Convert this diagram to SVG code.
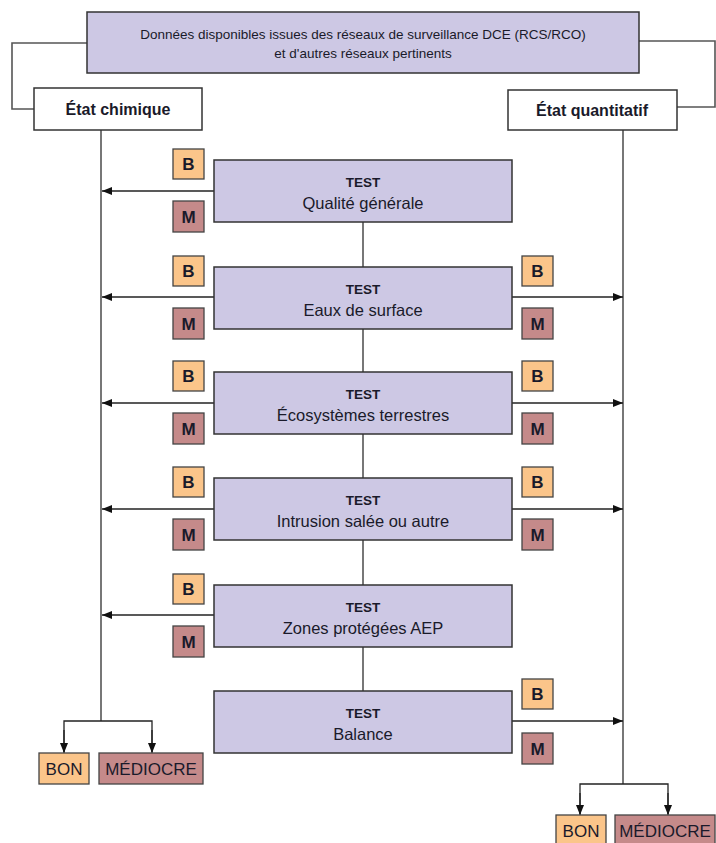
<svg xmlns="http://www.w3.org/2000/svg" width="716" height="843" viewBox="0 0 716 843">
<defs>
<marker id="arr" markerUnits="userSpaceOnUse" markerWidth="10" markerHeight="8" refX="10" refY="4" orient="auto">
<path d="M0,0 L10,4 L0,8 Z" fill="#111"/>
</marker>
<style>
.test{fill:#cdc8e4;stroke:#333;stroke-width:1.5}
.head{fill:#fff;stroke:#333;stroke-width:1.5}
.b{fill:#fbc58a;stroke:#444;stroke-width:1.3}
.m{fill:#c58a8a;stroke:#444;stroke-width:1.3}
.ln{fill:none;stroke:#555;stroke-width:1.6}
.ar{fill:none;stroke:#222;stroke-width:1.3;marker-end:url(#arr)}
text{font-family:"Liberation Sans Narrow","Liberation Sans",Arial,sans-serif;fill:#1a1a2a;text-anchor:middle}
.t1{font-size:13.5px;font-weight:bold}
.t2{font-size:16.5px}
.bm{font-size:17px;font-weight:bold}
.res{font-size:17px}
.top{font-size:13.5px}
.hd{font-size:16px;font-weight:bold}
</style>
</defs>

<g id="connectors">
<polyline class="ln" points="87,43 12,43 12,109 34,109"/>
<polyline class="ln" points="639,41 715,41 715,107 677,107"/>
<line class="ln" x1="101" y1="130" x2="101" y2="721"/>
<line class="ln" x1="623" y1="130" x2="623" y2="784"/>
<line class="ln" x1="363" y1="222" x2="363" y2="267"/>
<line class="ln" x1="363" y1="329" x2="363" y2="372"/>
<line class="ln" x1="363" y1="434" x2="363" y2="478"/>
<line class="ln" x1="363" y1="540" x2="363" y2="585"/>
<line class="ln" x1="363" y1="647" x2="363" y2="691"/>
<line class="ar" x1="214" y1="191" x2="102" y2="191"/>
<line class="ar" x1="214" y1="297" x2="102" y2="297"/>
<line class="ar" x1="214" y1="403" x2="102" y2="403"/>
<line class="ar" x1="214" y1="509" x2="102" y2="509"/>
<line class="ar" x1="214" y1="615" x2="102" y2="615"/>
<line class="ar" x1="512" y1="297" x2="623" y2="297"/>
<line class="ar" x1="512" y1="403" x2="623" y2="403"/>
<line class="ar" x1="512" y1="509" x2="623" y2="509"/>
<line class="ar" x1="512" y1="721" x2="623" y2="721"/>
<polyline class="ln" points="64,752 64,721 152,721 152,752" style="stroke:#222;stroke-width:1.3"/>
<line class="ar" x1="64" y1="730" x2="64" y2="753"/>
<line class="ar" x1="152" y1="730" x2="152" y2="753"/>
<polyline class="ln" points="580,814 580,784 668,784 668,814" style="stroke:#222;stroke-width:1.3"/>
<line class="ar" x1="580" y1="793" x2="580" y2="815"/>
<line class="ar" x1="668" y1="793" x2="668" y2="815"/>
</g>

<g id="source">
<rect class="test" x="87" y="12" width="552" height="61"/>
<text class="top" x="363" y="39">Données disponibles issues des réseaux de surveillance DCE (RCS/RCO)</text>
<text class="top" x="363" y="58">et d'autres réseaux pertinents</text>
</g>
<g id="etat-chimique">
<rect class="head" x="34" y="88" width="168" height="42"/>
<text class="hd" x="118" y="115">État chimique</text>
</g>
<g id="etat-quantitatif">
<rect class="head" x="508" y="90" width="169" height="40"/>
<text class="hd" x="592" y="116">État quantitatif</text>
</g>

<g id="test-qualite">
<rect class="test" x="214" y="160" width="298" height="62"/>
<text class="t1" x="363" y="187">TEST</text>
<text class="t2" x="363" y="209">Qualité générale</text>
</g>
<g id="test-eaux">
<rect class="test" x="214" y="267" width="298" height="62"/>
<text class="t1" x="363" y="294">TEST</text>
<text class="t2" x="363" y="316">Eaux de surface</text>
</g>
<g id="test-ecosystemes">
<rect class="test" x="214" y="372" width="298" height="62"/>
<text class="t1" x="363" y="399">TEST</text>
<text class="t2" x="363" y="421">Écosystèmes terrestres</text>
</g>
<g id="test-intrusion">
<rect class="test" x="214" y="478" width="298" height="62"/>
<text class="t1" x="363" y="505">TEST</text>
<text class="t2" x="363" y="527">Intrusion salée ou autre</text>
</g>
<g id="test-zones">
<rect class="test" x="214" y="585" width="298" height="62"/>
<text class="t1" x="363" y="612">TEST</text>
<text class="t2" x="363" y="634">Zones protégées AEP</text>
</g>
<g id="test-balance">
<rect class="test" x="214" y="691" width="298" height="62"/>
<text class="t1" x="363" y="718">TEST</text>
<text class="t2" x="363" y="740">Balance</text>
</g>

<g id="bm-left">
<rect class="b" x="173" y="149" width="31" height="30"/><text class="bm" x="188.5" y="170">B</text>
<rect class="m" x="173" y="201" width="31" height="31"/><text class="bm" x="188.5" y="223">M</text>
<rect class="b" x="173" y="256" width="31" height="30"/><text class="bm" x="188.5" y="277">B</text>
<rect class="m" x="173" y="308" width="31" height="31"/><text class="bm" x="188.5" y="330">M</text>
<rect class="b" x="173" y="361" width="31" height="30"/><text class="bm" x="188.5" y="382">B</text>
<rect class="m" x="173" y="413" width="31" height="31"/><text class="bm" x="188.5" y="435">M</text>
<rect class="b" x="173" y="467" width="31" height="30"/><text class="bm" x="188.5" y="488">B</text>
<rect class="m" x="173" y="519" width="31" height="31"/><text class="bm" x="188.5" y="541">M</text>
<rect class="b" x="173" y="574" width="31" height="30"/><text class="bm" x="188.5" y="595">B</text>
<rect class="m" x="173" y="626" width="31" height="31"/><text class="bm" x="188.5" y="648">M</text>
</g>
<g id="bm-right">
<rect class="b" x="522" y="256" width="31" height="30"/><text class="bm" x="537.5" y="277">B</text>
<rect class="m" x="522" y="308" width="31" height="31"/><text class="bm" x="537.5" y="330">M</text>
<rect class="b" x="522" y="361" width="31" height="30"/><text class="bm" x="537.5" y="382">B</text>
<rect class="m" x="522" y="413" width="31" height="31"/><text class="bm" x="537.5" y="435">M</text>
<rect class="b" x="522" y="467" width="31" height="30"/><text class="bm" x="537.5" y="488">B</text>
<rect class="m" x="522" y="519" width="31" height="31"/><text class="bm" x="537.5" y="541">M</text>
<rect class="b" x="522" y="679" width="31" height="30"/><text class="bm" x="537.5" y="700">B</text>
<rect class="m" x="522" y="733" width="31" height="31"/><text class="bm" x="537.5" y="755">M</text>
</g>

<g id="bon-chimique">
<rect class="b" x="39" y="753" width="50" height="31"/>
<text class="res" x="64" y="775">BON</text>
</g>
<g id="mediocre-chimique">
<rect class="m" x="99" y="753" width="104" height="31"/>
<text class="res" x="151" y="775">MÉDIOCRE</text>
</g>
<g id="bon-quantitatif">
<rect class="b" x="556" y="815" width="50" height="31"/>
<text class="res" x="581" y="837">BON</text>
</g>
<g id="mediocre-quantitatif">
<rect class="m" x="615" y="815" width="100" height="31"/>
<text class="res" x="665" y="837">MÉDIOCRE</text>
</g>
</svg>
